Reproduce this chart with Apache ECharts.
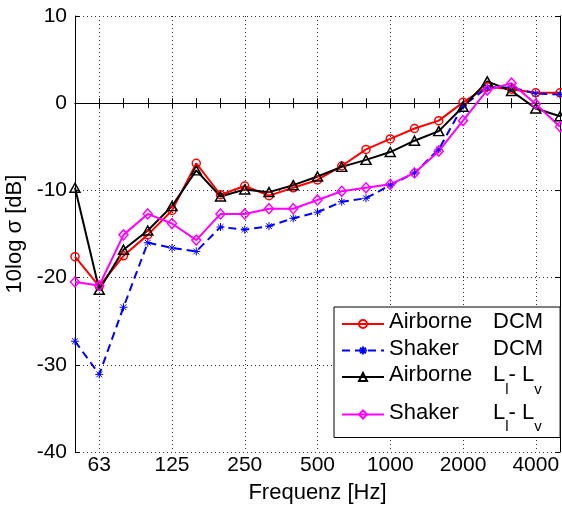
<!DOCTYPE html>
<html>
<head>
<meta charset="utf-8">
<script src="https://cdn.jsdelivr.net/npm/echarts@6/dist/echarts.min.js"></script>
<style>
  html, body { margin: 0; padding: 0; background: #fff; }
  #chart { width: 562px; height: 506px; }
</style>
</head>
<body>
<div id="chart"></div>
<script>
// One-third octave band centre frequencies [Hz]
const bands = ['50', '63', '80', '100', '125', '160', '200', '250', '315', '400',
  '500', '630', '800', '1000', '1250', '1600', '2000', '2500', '3150', '4000', '5000'];
// Octave bands that carry a label and a grid line
const octaveLabels = ['63', '125', '250', '500', '1000', '2000', '4000'];

// Radiation efficiency 10log(sigma) [dB] per band
const airborneDCM = [-17.6, -21.0, -17.5, -15.1, -12.3, -6.9, -10.5, -9.5, -10.6, -9.7,
  -8.8, -7.2, -5.3, -4.1, -2.9, -2.0, 0.1, 1.9, 1.6, 1.2, 1.2];
const shakerDCM = [-27.3, -31.1, -23.4, -16.0, -16.6, -17.0, -14.2, -14.5, -14.1, -13.2,
  -12.5, -11.3, -10.9, -9.4, -8.0, -5.3, -0.3, 1.8, 1.8, 1.1, 1.0];
const airborneLILV = [-9.7, -21.4, -16.8, -14.6, -11.8, -7.7, -10.7, -9.9, -10.2, -9.4,
  -8.4, -7.3, -6.5, -5.6, -4.3, -3.2, -0.4, 2.5, 1.4, -0.6, -1.5];
const shakerLILV = [-20.5, -20.9, -15.1, -12.7, -13.8, -15.7, -12.7, -12.7, -12.1, -12.1,
  -11.1, -10.1, -9.7, -9.3, -8.0, -5.5, -2.0, 1.5, 2.3, -0.1, -2.7];

// Level axis range
const yMin = -40, yMax = 10, yStep = 10;

const FONT = "'Liberation Sans', Arial, Helvetica, sans-serif";
const isOctave = (idx, val) => octaveLabels.includes(val);

// Legend labels: two aligned columns, L_l - L_v with subscripts
const legendText = {
  'Airborne DCM': '{a|Airborne}{b|DCM}',
  'Shaker DCM': '{a|Shaker}{b|DCM}',
  'Airborne Ll-Lv': '{a|Airborne}{b|L}{s|l}{b|- L}{s|v}',
  'Shaker Ll-Lv': '{a|Shaker}{b|L}{s|l}{b|- L}{s|v}'
};

const asterisk = 'path://M0,-5L0,5M-5,0L5,0M-3.6,-3.6L3.6,3.6M-3.6,3.6L3.6,-3.6';
const clear = 'rgba(255,255,255,0)';

function lineSeries(name, data, color, symbol, size, dashed) {
  const star = symbol === asterisk;
  return {
    name: name,
    type: 'line',
    data: data,
    xAxisIndex: 0,
    yAxisIndex: 0,
    symbol: symbol,
    symbolSize: size,
    showAllSymbol: true,
    lineStyle: { color: color, width: 2, type: dashed ? [8, 5] : 'solid' },
    itemStyle: { color: star ? color : clear, borderColor: color, borderWidth: star ? 1 : 1.5 },
    emphasis: { disabled: true },
    silent: true
  };
}

const chart = echarts.init(document.getElementById('chart'), null, { renderer: 'canvas' });
chart.setOption({
  animation: false,
  backgroundColor: '#fff',
  textStyle: { fontFamily: FONT },
  grid: { left: 75, right: 2, top: 16, bottom: 54, containLabel: false, outerBoundsMode: 'none' },
  xAxis: [
    {
      type: 'category',
      data: bands,
      boundaryGap: false,
      position: 'bottom',
      name: 'Frequenz [Hz]',
      nameLocation: 'middle',
      nameGap: 30,
      nameTextStyle: { fontSize: 22, color: '#000', fontFamily: FONT },
      axisLine: { show: true, lineStyle: { color: '#000', width: 1 } },
      axisTick: { show: true, inside: true, length: 5, interval: 0, lineStyle: { color: '#000' } },
      axisLabel: { interval: isOctave, margin: 3, fontSize: 21, color: '#000', fontFamily: FONT },
      splitLine: { show: true, interval: isOctave, lineStyle: { color: '#333', width: 1, type: [1, 3] } }
    },
    {
      type: 'category',
      data: bands,
      boundaryGap: false,
      position: 'top',
      axisLine: { show: true, lineStyle: { color: '#000', width: 1 } },
      axisTick: { show: true, inside: true, length: 5, interval: 0, lineStyle: { color: '#000' } },
      axisLabel: { show: false },
      splitLine: { show: false }
    }
  ],
  yAxis: [
    {
      type: 'value',
      min: yMin,
      max: yMax,
      interval: yStep,
      position: 'left',
      name: '10log σ [dB]',
      nameLocation: 'middle',
      nameGap: 48,
      nameTextStyle: { fontSize: 22, color: '#000', fontFamily: FONT },
      axisLine: { show: true, lineStyle: { color: '#000', width: 1 } },
      axisTick: { show: true, inside: true, length: 5, lineStyle: { color: '#000' } },
      axisLabel: { margin: 8, fontSize: 21, color: '#000', fontFamily: FONT },
      splitLine: { show: true, lineStyle: { color: '#333', width: 1, type: [1, 3] } }
    },
    {
      type: 'value',
      min: yMin,
      max: yMax,
      interval: yStep,
      position: 'right',
      axisLine: { show: true, lineStyle: { color: '#000', width: 1 } },
      axisTick: { show: true, inside: true, length: 5, lineStyle: { color: '#000' } },
      axisLabel: { show: false },
      splitLine: { show: false }
    }
  ],
  legend: {
    orient: 'vertical',
    left: 334,
    top: 307,
    padding: [4, 17, 3, 7],
    itemGap: 4.5,
    itemWidth: 42,
    itemHeight: 10,
    backgroundColor: '#fff',
    borderColor: '#000',
    borderWidth: 1,
    borderRadius: 0,
    selectedMode: false,
    data: ['Airborne DCM', 'Shaker DCM', 'Airborne Ll-Lv', 'Shaker Ll-Lv'],
    formatter: name => legendText[name],
    textStyle: {
      fontSize: 22,
      color: '#000',
      fontFamily: FONT,
      rich: {
        a: { fontSize: 22, fontFamily: FONT, color: '#000', width: 104, lineHeight: 26, verticalAlign: 'top' },
        b: { fontSize: 22, fontFamily: FONT, color: '#000', lineHeight: 26, verticalAlign: 'top' },
        s: { fontSize: 15, fontFamily: FONT, color: '#000', lineHeight: 15, padding: [18, 0, 0, 0], verticalAlign: 'top' }
      }
    }
  },
  series: [
    lineSeries('Airborne DCM', airborneDCM, '#ff0000', 'circle', 8, false),
    lineSeries('Shaker DCM', shakerDCM, '#0000ff', asterisk, 8, true),
    lineSeries('Airborne Ll-Lv', airborneLILV, '#000000', 'triangle', [10, 9], false),
    lineSeries('Shaker Ll-Lv', shakerLILV, '#ff00ff', 'diamond', [9, 10], false)
  ]
});
</script>
</body>
</html>
